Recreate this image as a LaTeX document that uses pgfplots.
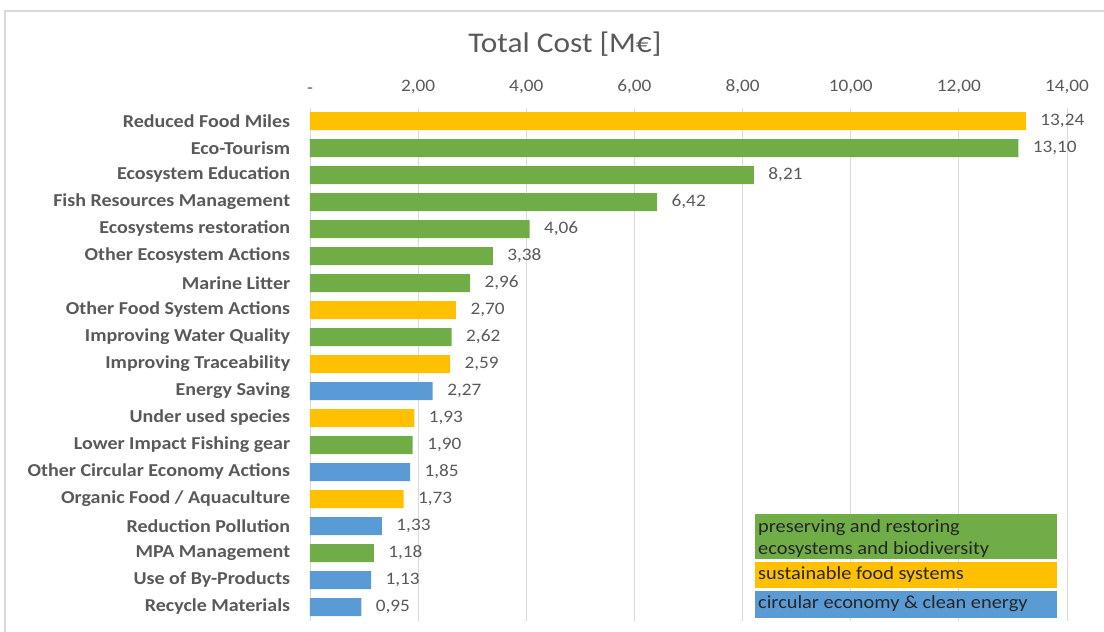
\documentclass[border=0pt]{standalone}
\usepackage{pgfplots}
\pgfplotsset{compat=1.18}
\usepackage{pgfplotstable}
\usepackage{fontspec}
\setmainfont{Carlito}[FakeStretch=1.1]
\definecolor{cgreen}{HTML}{70AD47}
\definecolor{cgold}{HTML}{FFC000}
\definecolor{cblue}{HTML}{5B9BD5}
\definecolor{ctext}{HTML}{595959}
\definecolor{cgrid}{HTML}{D9D9D9}
\pgfplotstableread{
y v
0 13.24
7 2.70
9 2.59
11 1.93
14 1.73
}\gold
\pgfplotstableread{
y v
1 13.10
2 8.21
3 6.42
4 4.06
5 3.38
6 2.96
8 2.62
12 1.90
16 1.18
}\green
\pgfplotstableread{
y v
10 2.27
13 1.85
15 1.33
17 1.13
18 0.95
}\blue
\begin{document}
\begin{tikzpicture}[x=1pt,y=1pt]
\path[use as bounding box] (0,0) rectangle (1104,632);
\draw[cgrid,line width=1.2pt] (5,0) -- (5,621) -- (1104,621);
\node[text=ctext, font=\fontsize{28.5}{31}\selectfont] at (565,588) {Total Cost [M€]};
\begin{axis}[
  at={(310pt,11.5pt)}, anchor=south west,
  scale only axis, width=757pt, height=513pt,
  xbar, bar width=18pt, bar shift=0pt,
  xmin=0, xmax=14, ymin=-0.5, ymax=18.5, y dir=reverse,
  axis line style={draw=none}, tick style={draw=none},
  xmajorgrids, major grid style={cgrid, line width=0.9pt},
  xtick={0,2,...,14},
  xticklabels={-,{2,00},{4,00},{6,00},{8,00},{10,00},{12,00},{14,00}},
  xticklabel pos=upper,
  xticklabel style={font=\fontsize{17.5}{20}\selectfont, text=ctext, yshift=10pt},
  ytick={0,...,18},
  yticklabels={Reduced Food Miles\ ,Eco-Tourism,Ecosystem Education,Fish Resources Management,Ecosystems restoration,Other Ecosystem Actions,Marine Litter,Other Food System Actions,Improving Water Quality,Improving Traceability,Energy Saving,Under used species,Lower Impact Fishing gear,Other Circular Economy Actions,Organic Food / Aquaculture,Reduction Pollution,MPA Management,Use of By-Products,Recycle Materials},
  yticklabel style={font=\bfseries\fontsize{18.2}{20}\selectfont, text=ctext, xshift=-12pt},
  /pgf/number format/assume math mode=true,
  nodes near coords={\pgfmathprintnumber[fixed,fixed zerofill,precision=2,use comma]{\pgfplotspointmeta}},
  nodes near coords style={font=\fontsize{17.5}{20}\selectfont, text=ctext, anchor=west, xshift=11pt},
  clip=false,
]
\addplot[fill=cgold, draw=none] table[x=v,y=y]{\gold};
\addplot[fill=cgreen, draw=none] table[x=v,y=y]{\green};
\addplot[fill=cblue, draw=none] table[x=v,y=y]{\blue};
\end{axis}
\fill[cgreen] (755,73) rectangle (1057,118);
\fill[cgold] (755,44) rectangle (1057,70);
\fill[cblue] (755,14) rectangle (1057,41);
\begin{scope}[every node/.style={anchor=west, inner sep=0pt, text=black!85, font=\fontsize{18.5}{21}\selectfont}]
\node at (758,104) {preserving and restoring};
\node at (758,82) {ecosystems and biodiversity};
\node at (758,57) {sustainable food systems};
\node at (758,28.5) {circular economy \& clean energy};
\end{scope}
\end{tikzpicture}
\end{document}
